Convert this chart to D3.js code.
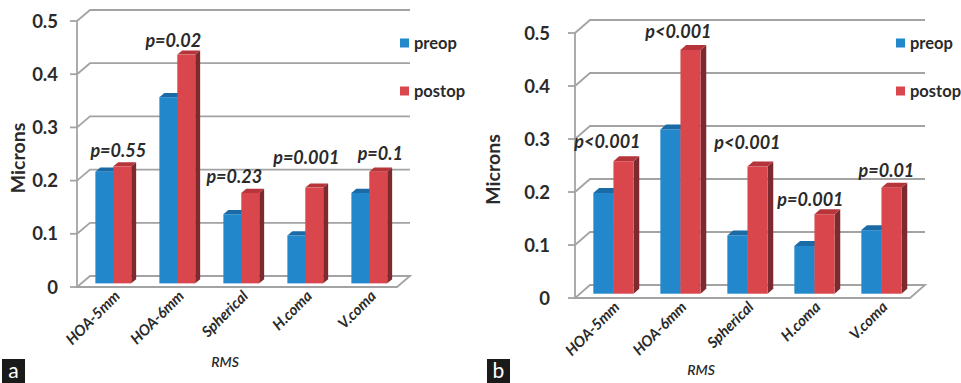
<!DOCTYPE html>
<html>
<head>
<meta charset="utf-8">
<script src="https://cdn.jsdelivr.net/npm/d3@7"></script>
<style>
  html, body { margin: 0; padding: 0; background: #fff; }
  svg { display: block; }
  text { font-family: Lato, "Open Sans", sans-serif; }
</style>
</head>
<body>
<svg id="chart" width="961" height="383"></svg>
<script>
// Pre/post-op RMS wavefront aberrations, two panels (a, b)

const categories = ['HOA-5mm', 'HOA-6mm', 'Spherical', 'H.coma', 'V.coma'];
const seriesNames = ['preop', 'postop'];
const yTicks = [0, 0.1, 0.2, 0.3, 0.4, 0.5];

const preopA = [0.21, 0.35, 0.13, 0.09, 0.17];
const postopA = [0.22, 0.43, 0.17, 0.18, 0.21];
const pLabelsA = ['p=0.55', 'p=0.02', 'p=0.23', 'p=0.001', 'p=0.1'];

const preopB = [0.19, 0.31, 0.11, 0.09, 0.12];
const postopB = [0.25, 0.46, 0.24, 0.15, 0.20];
const pLabelsB = ['p<0.001', 'p<0.001', 'p<0.001', 'p=0.001', 'p=0.01'];

const colors = {
    preop: { front: '#2388cb', top: '#1a6aa6', side: '#15507e' },
    postop: { front: '#d9474c', top: '#b5353a', side: '#7c2a30' }
};
const gridColor = '#a3a3a3';
const textColor = '#2a2a2a';

const svg = d3.select('#chart');

function drawPanel(cfg) {
    const g = svg.append('g');
    const [dx, dy] = cfg.depth;

    const y = d3.scaleLinear().domain([0, 0.5]).range([cfg.y0, cfg.y1]);
    const x = d3.scaleBand().domain(categories)
        .range([cfg.xLeft, cfg.xRight])
        .paddingInner(cfg.padIn).paddingOuter(cfg.padIn / 2);
    const xs = d3.scaleBand().domain(seriesNames).range([0, x.bandwidth()]);

    // floor
    const y0 = y(0);
    g.append('path')
        .attr('d', `M${cfg.xLeft},${y0}L${cfg.xRight},${y0}L${cfg.xRight + dx},${y0 + dy}L${cfg.xLeft + dx},${y0 + dy}Z`)
        .attr('fill', '#fff')
        .attr('stroke', gridColor)
        .attr('stroke-width', 1.8);

    // back wall gridlines + left wall diagonals
    const grid = g.append('g')
        .attr('fill', 'none')
        .attr('stroke', gridColor)
        .attr('stroke-width', 1.8);
    yTicks.filter(t => t > 0).forEach(t => {
        grid.append('path')
            .attr('d', `M${cfg.xLeft},${y(t)}L${cfg.xLeft + dx},${y(t) + dy}L${cfg.xRight + dx},${y(t) + dy}`);
    });

    // axis line + ticks
    grid.append('line')
        .attr('x1', cfg.xLeft).attr('x2', cfg.xLeft)
        .attr('y1', y(0)).attr('y2', y(0.5));
    yTicks.forEach(t => {
        grid.append('line')
            .attr('x1', cfg.xLeft - 7).attr('x2', cfg.xLeft)
            .attr('y1', y(t)).attr('y2', y(t));
    });

    g.append('g').selectAll('text')
        .data(yTicks)
        .join('text')
        .attr('x', cfg.xLeft - cfg.tickGap)
        .attr('y', d => y(d))
        .attr('dy', '0.36em')
        .attr('text-anchor', 'end')
        .attr('font-size', 18.5)
        .attr('font-weight', 700)
        .attr('fill', textColor)
        .text(d => d === 0 ? '0' : d3.format('.1f')(d));

    // 3D bars
    const fx = dx * 0.33, fy = dy * 0.33;
    const bx = dx * 0.38, by = dy * 0.38;
    const rows = [];
    categories.forEach((c, i) => {
        rows.push({ cat: c, s: 'preop', v: cfg.preop[i] });
        rows.push({ cat: c, s: 'postop', v: cfg.postop[i] });
    });
    const bars = g.append('g').selectAll('g')
        .data(rows)
        .join('g');
    bars.each(function (d) {
        const b = d3.select(this);
        const x0 = x(d.cat) + xs(d.s) + fx;
        const x1 = x0 + xs.bandwidth();
        const yt = y(d.v) + fy;
        const yb = y(0) + fy;
        const col = colors[d.s];
        b.append('path')
            .attr('d', `M${x1},${yt}L${x1 + bx},${yt + by}L${x1 + bx},${yb + by}L${x1},${yb}Z`)
            .attr('fill', col.side);
        b.append('path')
            .attr('d', `M${x0},${yt}L${x0 + bx},${yt + by}L${x1 + bx},${yt + by}L${x1},${yt}Z`)
            .attr('fill', col.top);
        b.append('rect')
            .attr('x', x0).attr('y', yt)
            .attr('width', x1 - x0).attr('height', yb - yt)
            .attr('fill', col.front);
    });

    // p-values above each group
    g.append('g').selectAll('text')
        .data(cfg.pLabels)
        .join('text')
        .attr('x', (d, i) => x(categories[i]) + x.bandwidth() / 2 + fx + cfg.pNudge[i][0])
        .attr('y', (d, i) => y(Math.max(cfg.preop[i], cfg.postop[i])) + fy - 10 + cfg.pNudge[i][1])
        .attr('text-anchor', 'middle')
        .attr('font-size', 18)
        .attr('font-weight', 700)
        .attr('font-style', 'italic')
        .attr('fill', textColor)
        .text(d => d);

    // category labels, rotated
    g.append('g').selectAll('text')
        .data(categories)
        .join('text')
        .attr('transform', d => `translate(${x(d) + x.bandwidth() / 2 + 12},${y0 + 10}) rotate(-45)`)
        .attr('text-anchor', 'end')
        .attr('font-size', 15)
        .attr('font-weight', 700)
        .attr('font-style', 'italic')
        .attr('fill', textColor)
        .text(d => d);

    // axis titles
    g.append('text')
        .attr('transform', `translate(${cfg.yTitleX},${(y(0) + y(0.5)) / 2 + 4}) rotate(-90)`)
        .attr('text-anchor', 'middle')
        .attr('dy', '0.36em')
        .attr('font-size', 19.5)
        .attr('font-weight', 700)
        .attr('fill', textColor)
        .text('Microns');

    g.append('text')
        .attr('x', cfg.rmsX)
        .attr('y', cfg.rmsY)
        .attr('text-anchor', 'middle')
        .attr('font-size', 14)
        .attr('font-weight', 600)
        .attr('font-style', 'italic')
        .attr('fill', textColor)
        .text('RMS');

    // legend
    const leg = g.append('g').selectAll('g')
        .data(seriesNames)
        .join('g')
        .attr('transform', (d, i) => `translate(${cfg.legendX},${43 + i * 48})`);
    leg.append('rect')
        .attr('x', 0).attr('y', -4.5)
        .attr('width', 9).attr('height', 9)
        .attr('fill', d => colors[d].front);
    leg.append('text')
        .attr('x', 14)
        .attr('dy', '0.34em')
        .attr('font-size', 16.5)
        .attr('font-weight', 700)
        .attr('fill', textColor)
        .text(d => d);

    // panel letter
    const tag = g.append('g').attr('transform', `translate(${cfg.tagX},359)`);
    tag.append('rect').attr('width', 23).attr('height', 24).attr('fill', '#1a1a1a');
    tag.append('text')
        .attr('x', 11.5).attr('y', 19)
        .attr('text-anchor', 'middle')
        .attr('font-size', 21)
        .attr('font-family', 'Liberation Sans, Arial, sans-serif')
        .attr('fill', '#fff')
        .text(cfg.tag);
}

drawPanel({
    preop: preopA, postop: postopA, pLabels: pLabelsA,
    pNudge: [[5, 1], [-4, 2], [-7, 0], [1, -14], [11, -2]],
    xLeft: 77, xRight: 397, y0: 287, y1: 21, depth: [13, -11],
    padIn: 0.44, tickGap: 19, yTitleX: 18, rmsX: 225, rmsY: 367,
    legendX: 400, tagX: 2, tag: 'a'
});

drawPanel({
    preop: preopB, postop: postopB, pLabels: pLabelsB,
    pNudge: [[-6, -3], [-2, -2], [0, -8], [-4, 2], [5, -1]],
    xLeft: 575, xRight: 910, y0: 298, y1: 33, depth: [15, -13],
    padIn: 0.4, tickGap: 25, yTitleX: 493, rmsX: 701, rmsY: 375,
    legendX: 896, tagX: 487, tag: 'b'
});
</script>
</body>
</html>
